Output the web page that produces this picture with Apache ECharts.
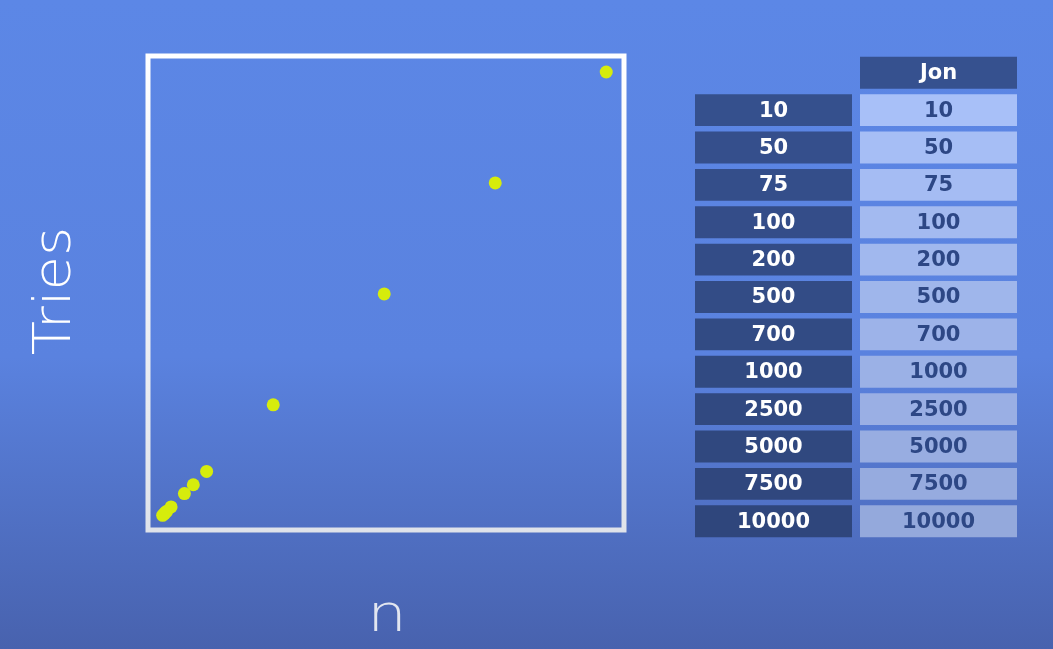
<!DOCTYPE html>
<html lang="en">
<head>
    <meta charset="UTF-8">
    <title>Tries vs n</title>
    <style>
        html, body { margin: 0; padding: 0; }
        #main { width: 1053px; height: 649px; }
    </style>
</head>
<body>
    <div id="main"></div>
    <script src="https://cdn.jsdelivr.net/npm/echarts@6/dist/echarts.min.js"></script>
    <script>
        // table / scatter data
        let nValues = [10, 50, 75, 100, 200, 500, 700, 1000, 2500, 5000, 7500, 10000];
        let jonTries = [10, 50, 75, 100, 200, 500, 700, 1000, 2500, 5000, 7500, 10000];
        let tableColumns = ['n', 'Jon'];
        let tableHeader = ['', 'Jon'];

        let scatterData = nValues.map((n, i) => [n, jonTries[i]]);

        let rowNames = ['head'].concat(nValues.map(String));
        let cellData = [];
        tableHeader.forEach((t, c) => {
            if (t) cellData.push([c, 0, t]);
        });
        nValues.forEach((n, i) => {
            cellData.push([0, i + 1, String(n)]);
            cellData.push([1, i + 1, String(jonTries[i])]);
        });

        function mix(a, b, t) {
            let pa = a.match(/\w\w/g).map(h => parseInt(h, 16));
            let pb = b.match(/\w\w/g).map(h => parseInt(h, 16));
            return 'rgb(' + pa.map((v, k) => Math.round(v + (pb[k] - v) * t)).join(',') + ')';
        }

        var myChart = echarts.init(document.getElementById('main'));

        option = {
            backgroundColor: {
                type: 'linear', x: 0, y: 0, x2: 0, y2: 1,
                colorStops: [
                    { offset: 0, color: '#5c87e6' },
                    { offset: 0.55, color: '#5a82df' },
                    { offset: 1, color: '#4862ae' }
                ]
            },
            graphic: [{
                type: 'text',
                x: 57,
                y: 291,
                rotation: Math.PI / 2,
                scaleX: 1.1,
                style: {
                    text: 'Tries',
                    fill: '#ffffff',
                    align: 'center',
                    verticalAlign: 'middle',
                    font: '200 51px "DejaVu Sans", sans-serif'
                }
            }, {
                type: 'text',
                x: 387,
                y: 591,
                scaleX: 1.2,
                style: {
                    text: 'n',
                    fill: '#e2e6f0',
                    align: 'center',
                    verticalAlign: 'top',
                    font: '200 52px "DejaVu Sans", sans-serif'
                }
            }],
            grid: [{
                left: 148,
                top: 56,
                width: 476,
                height: 474,
                show: true,
                borderColor: {
                    type: 'linear', x: 0, y: 0, x2: 0, y2: 1,
                    colorStops: [
                        { offset: 0, color: '#ffffff' },
                        { offset: 1, color: '#dfe3ea' }
                    ]
                },
                borderWidth: 5,
                backgroundColor: 'transparent'
            }, {
                left: 691,
                top: 54,
                width: 330,
                height: 486
            }],
            xAxis: [{
                gridIndex: 0,
                type: 'value',
                min: -320,
                max: 10400,
                axisLine: { show: false },
                axisTick: { show: false },
                axisLabel: { show: false },
                splitLine: { show: false }
            }, {
                gridIndex: 1,
                type: 'category',
                data: tableColumns,
                show: false
            }],
            yAxis: [{
                gridIndex: 0,
                type: 'value',
                min: -320,
                max: 10360,
                axisLine: { show: false },
                axisTick: { show: false },
                axisLabel: { show: false },
                splitLine: { show: false }
            }, {
                gridIndex: 1,
                type: 'category',
                data: rowNames,
                inverse: true,
                show: false
            }],
            series: [{
                type: 'scatter',
                xAxisIndex: 0,
                yAxisIndex: 0,
                symbolSize: 13,
                itemStyle: { color: '#d6ec0c', opacity: 1 },
                data: scatterData
            }, {
                type: 'custom',
                xAxisIndex: 1,
                yAxisIndex: 1,
                data: cellData,
                renderItem(params, api) {
                    let c = api.value(0);
                    let r = api.value(1);
                    let p = api.coord([c, r]);
                    let s = api.size([1, 1]);
                    let w = s[0] - 8;
                    let h = s[1] - 5.5;
                    let t = r / 12;
                    let light = c === 1 && r > 0;
                    let fill = light ? mix('aac2fa', '94a9dc', t) : mix('36518f', '2f467c', t);
                    let color = light ? '#2d4785' : '#ffffff';
                    return {
                        type: 'group',
                        children: [{
                            type: 'rect',
                            shape: { x: p[0] - w / 2, y: p[1] - h / 2, width: w, height: h },
                            style: { fill: fill }
                        }, {
                            type: 'text',
                            x: p[0],
                            y: p[1] + 1,
                            style: {
                                text: cellData[params.dataIndex][2],
                                fill: color,
                                align: 'center',
                                verticalAlign: 'middle',
                                font: 'bold 21px "DejaVu Sans", sans-serif'
                            }
                        }]
                    };
                }
            }]
        };
        myChart.setOption(option);
    </script>
</body>
</html>
